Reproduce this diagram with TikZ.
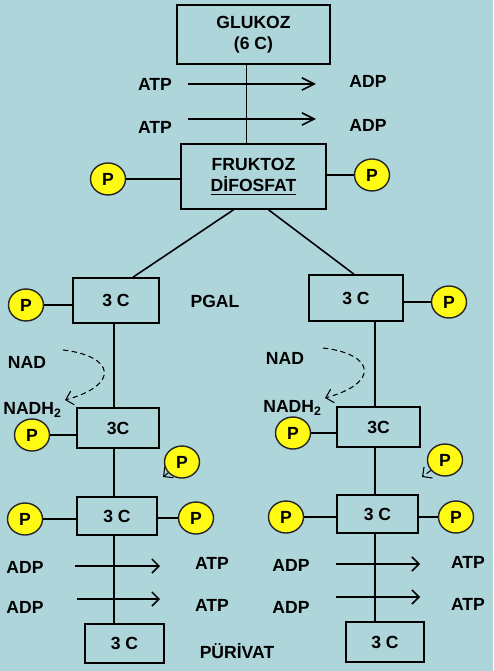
\documentclass[tikz,border=0pt]{standalone}
\usepackage{fontspec}
\setmainfont{Liberation Sans}
\usetikzlibrary{arrows.meta}
\usetikzlibrary{shapes.geometric}
\usetikzlibrary{positioning}
\definecolor{zemin}{RGB}{174,214,218}
\definecolor{fosfatsari}{RGB}{255,250,20}
\newcommand{\pxu}{0.02cm}
\tikzset{kutu/.style = {draw, line width=0.9pt, inner sep=0pt, align=center, font=\bfseries}}
\tikzset{fos/.style = {ellipse, draw=black!85, fill=fosfatsari, line width=0.8pt, minimum width=35*\pxu, minimum height=32*\pxu, inner sep=0pt, font=\bfseries}}
\tikzset{yazi/.style = {font=\bfseries}}
\tikzset{cizgi/.style = {line width=0.9pt}}
\tikzset{ok/.style = {->, line width=0.9pt}}
\tikzset{uzunok/.style = {-{Straight Barb[length=7pt,width=7pt]}, line width=0.9pt}}
\tikzset{egri/.style = {->, densely dashed, line width=0.6pt}}

\begin{document}
\begin{tikzpicture}[x=\pxu, y=-\pxu, >={Straight Barb[length=4pt,width=8pt]}]

  % zemin
  \fill[zemin] (0,0) rectangle (493,671);
  \useasboundingbox (0,0) rectangle (493,671);

  % dikey eksenler
  \coordinate (solx) at (114,0);
  \coordinate (sagx) at (375,0);

  % glukoz -> fruktoz difosfat
  \node[kutu, minimum width=153*\pxu, minimum height=59*\pxu] (glukoz) at (253.5,34.5) {GLUKOZ\\(6 C)};
  \node[kutu, minimum width=145*\pxu, minimum height=65*\pxu] (fruktoz) at (253.5,176.5) {FRUKTOZ\\\underline{DİFOSFAT}};
  \draw[cizgi] ([xshift=-7*\pxu]glukoz.south) -- ([xshift=-7*\pxu]fruktoz.north);

  \node[yazi] (atp1) at (155,84) {ATP};
  \node[yazi] (adp1) at (368,81) {ADP};
  \node[yazi] (atp2) at (155,127) {ATP};
  \node[yazi] (adp2) at (368,125) {ADP};
  \coordinate (o1b) at (188,84);  \coordinate (o1s) at (316,84);
  \coordinate (o2b) at (188,119); \coordinate (o2s) at (316,119);
  \draw[uzunok] (o1b) -- (o1s);
  \draw[uzunok] (o2b) -- (o2s);

  \node[fos] (pf1) at (108,179) {P};
  \node[fos] (pf2) at (372,175) {P};
  \draw[cizgi] (pf1) -- (pf1 -| fruktoz.west);
  \draw[cizgi] (pf2) -- (pf2 -| fruktoz.east);

  % sol kol
  \node[kutu, minimum width=86*\pxu, minimum height=45*\pxu] (s1) at (116,300.5) {3 C};
  \node[kutu, minimum width=82*\pxu, minimum height=40*\pxu] (s2) at (118,428) {3C};
  \node[kutu, minimum width=80*\pxu, minimum height=38*\pxu] (s3) at (117,516) {3 C};
  \node[kutu, minimum width=79*\pxu, minimum height=39*\pxu] (s4) at (124.5,643.5) {3 C};
  \draw[cizgi] ([xshift=-20*\pxu]fruktoz.south) -- ([xshift=17*\pxu]s1.north);
  \draw[cizgi] (s1.south -| solx) -- (s2.north -| solx);
  \draw[cizgi] (s2.south -| solx) -- (s3.north -| solx);
  \draw[cizgi] (s3.south -| solx) -- (s4.north -| solx);

  \node[yazi] (pgal) at (215,301) {PGAL};
  \node[yazi] (pirus) at (237,651) {PÜRİVAT};
  \node[fos] (ps1) at (26,305) {P};
  \draw[cizgi] (ps1) -- (ps1 -| s1.west);

  \node[yazi] (nad1) at (27,362) {NAD};
  \node[yazi, anchor=west, inner sep=0pt] (nadh1) at (3,410) {NADH\textsubscript{2}};
  \coordinate (n1b) at (63,350);
  \coordinate (n1s) at (65,400);
  \draw[egri] (n1b) .. controls (115,356) and (120,385) .. (n1s);
  \node[fos] (ps2) at (32,435) {P};
  \draw[cizgi] (ps2) -- (ps2 -| s2.west);

  \node[fos] (pk1) at (182,462) {P};
  \coordinate (pk1u) at (163,477);
  \draw[egri] (pk1) -- (pk1u);

  \node[fos] (ps3) at (25,519) {P};
  \node[fos] (ps4) at (196,518) {P};
  \draw[cizgi] (ps3) -- (ps3 -| s3.west);
  \draw[cizgi] (ps4) -- (ps4 -| s3.east);

  \node[yazi] (adp3) at (25,567) {ADP};
  \node[yazi] (adp4) at (25,607) {ADP};
  \node[yazi] (atp3) at (212,563) {ATP};
  \node[yazi] (atp4) at (212,605) {ATP};
  \coordinate (o3b) at (75,566); \coordinate (o3s) at (160,566);
  \coordinate (o4b) at (77,599); \coordinate (o4s) at (160,599);
  \draw[ok] (o3b) -- (o3s);
  \draw[ok] (o4b) -- (o4s);

  % sag kol
  \node[kutu, minimum width=94*\pxu, minimum height=46*\pxu] (r1) at (356,298) {3 C};
  \node[kutu, minimum width=83*\pxu, minimum height=40*\pxu] (r2) at (378.5,427) {3C};
  \node[kutu, minimum width=81*\pxu, minimum height=38*\pxu] (r3) at (377.5,514) {3 C};
  \node[kutu, minimum width=78*\pxu, minimum height=40*\pxu] (r4) at (385,642) {3 C};
  \draw[cizgi] ([xshift=15*\pxu]fruktoz.south) -- ([xshift=-2*\pxu]r1.north);
  \draw[cizgi] (r1.south -| sagx) -- (r2.north -| sagx);
  \draw[cizgi] (r2.south -| sagx) -- (r3.north -| sagx);
  \draw[cizgi] (r3.south -| sagx) -- (r4.north -| sagx);

  \node[fos] (pr1) at (449,302) {P};
  \draw[cizgi] (pr1) -- (pr1 -| r1.east);

  \node[yazi] (nad2) at (285,358) {NAD};
  \node[yazi, anchor=west, inner sep=0pt] (nadh2) at (263,408) {NADH\textsubscript{2}};
  \coordinate (n2b) at (323,348);
  \coordinate (n2s) at (325,398);
  \draw[egri] (n2b) .. controls (375,354) and (380,383) .. (n2s);
  \node[fos] (pr2) at (293,433) {P};
  \draw[cizgi] (pr2) -- (pr2 -| r2.west);

  \node[fos] (pk2) at (445,460) {P};
  \coordinate (pk2u) at (422,477);
  \draw[egri] (pk2) -- (pk2u);

  \node[fos] (pr3) at (286,517) {P};
  \node[fos] (pr4) at (456,517) {P};
  \draw[cizgi] (pr3) -- (pr3 -| r3.west);
  \draw[cizgi] (pr4) -- (pr4 -| r3.east);

  \node[yazi] (adp5) at (291,565) {ADP};
  \node[yazi] (adp6) at (291,607) {ADP};
  \node[yazi] (atp5) at (468,562) {ATP};
  \node[yazi] (atp6) at (468,604) {ATP};
  \coordinate (o5b) at (336,564); \coordinate (o5s) at (420,564);
  \coordinate (o6b) at (336,597); \coordinate (o6s) at (420,597);
  \draw[ok] (o5b) -- (o5s);
  \draw[ok] (o6b) -- (o6s);

\end{tikzpicture}
\end{document}
